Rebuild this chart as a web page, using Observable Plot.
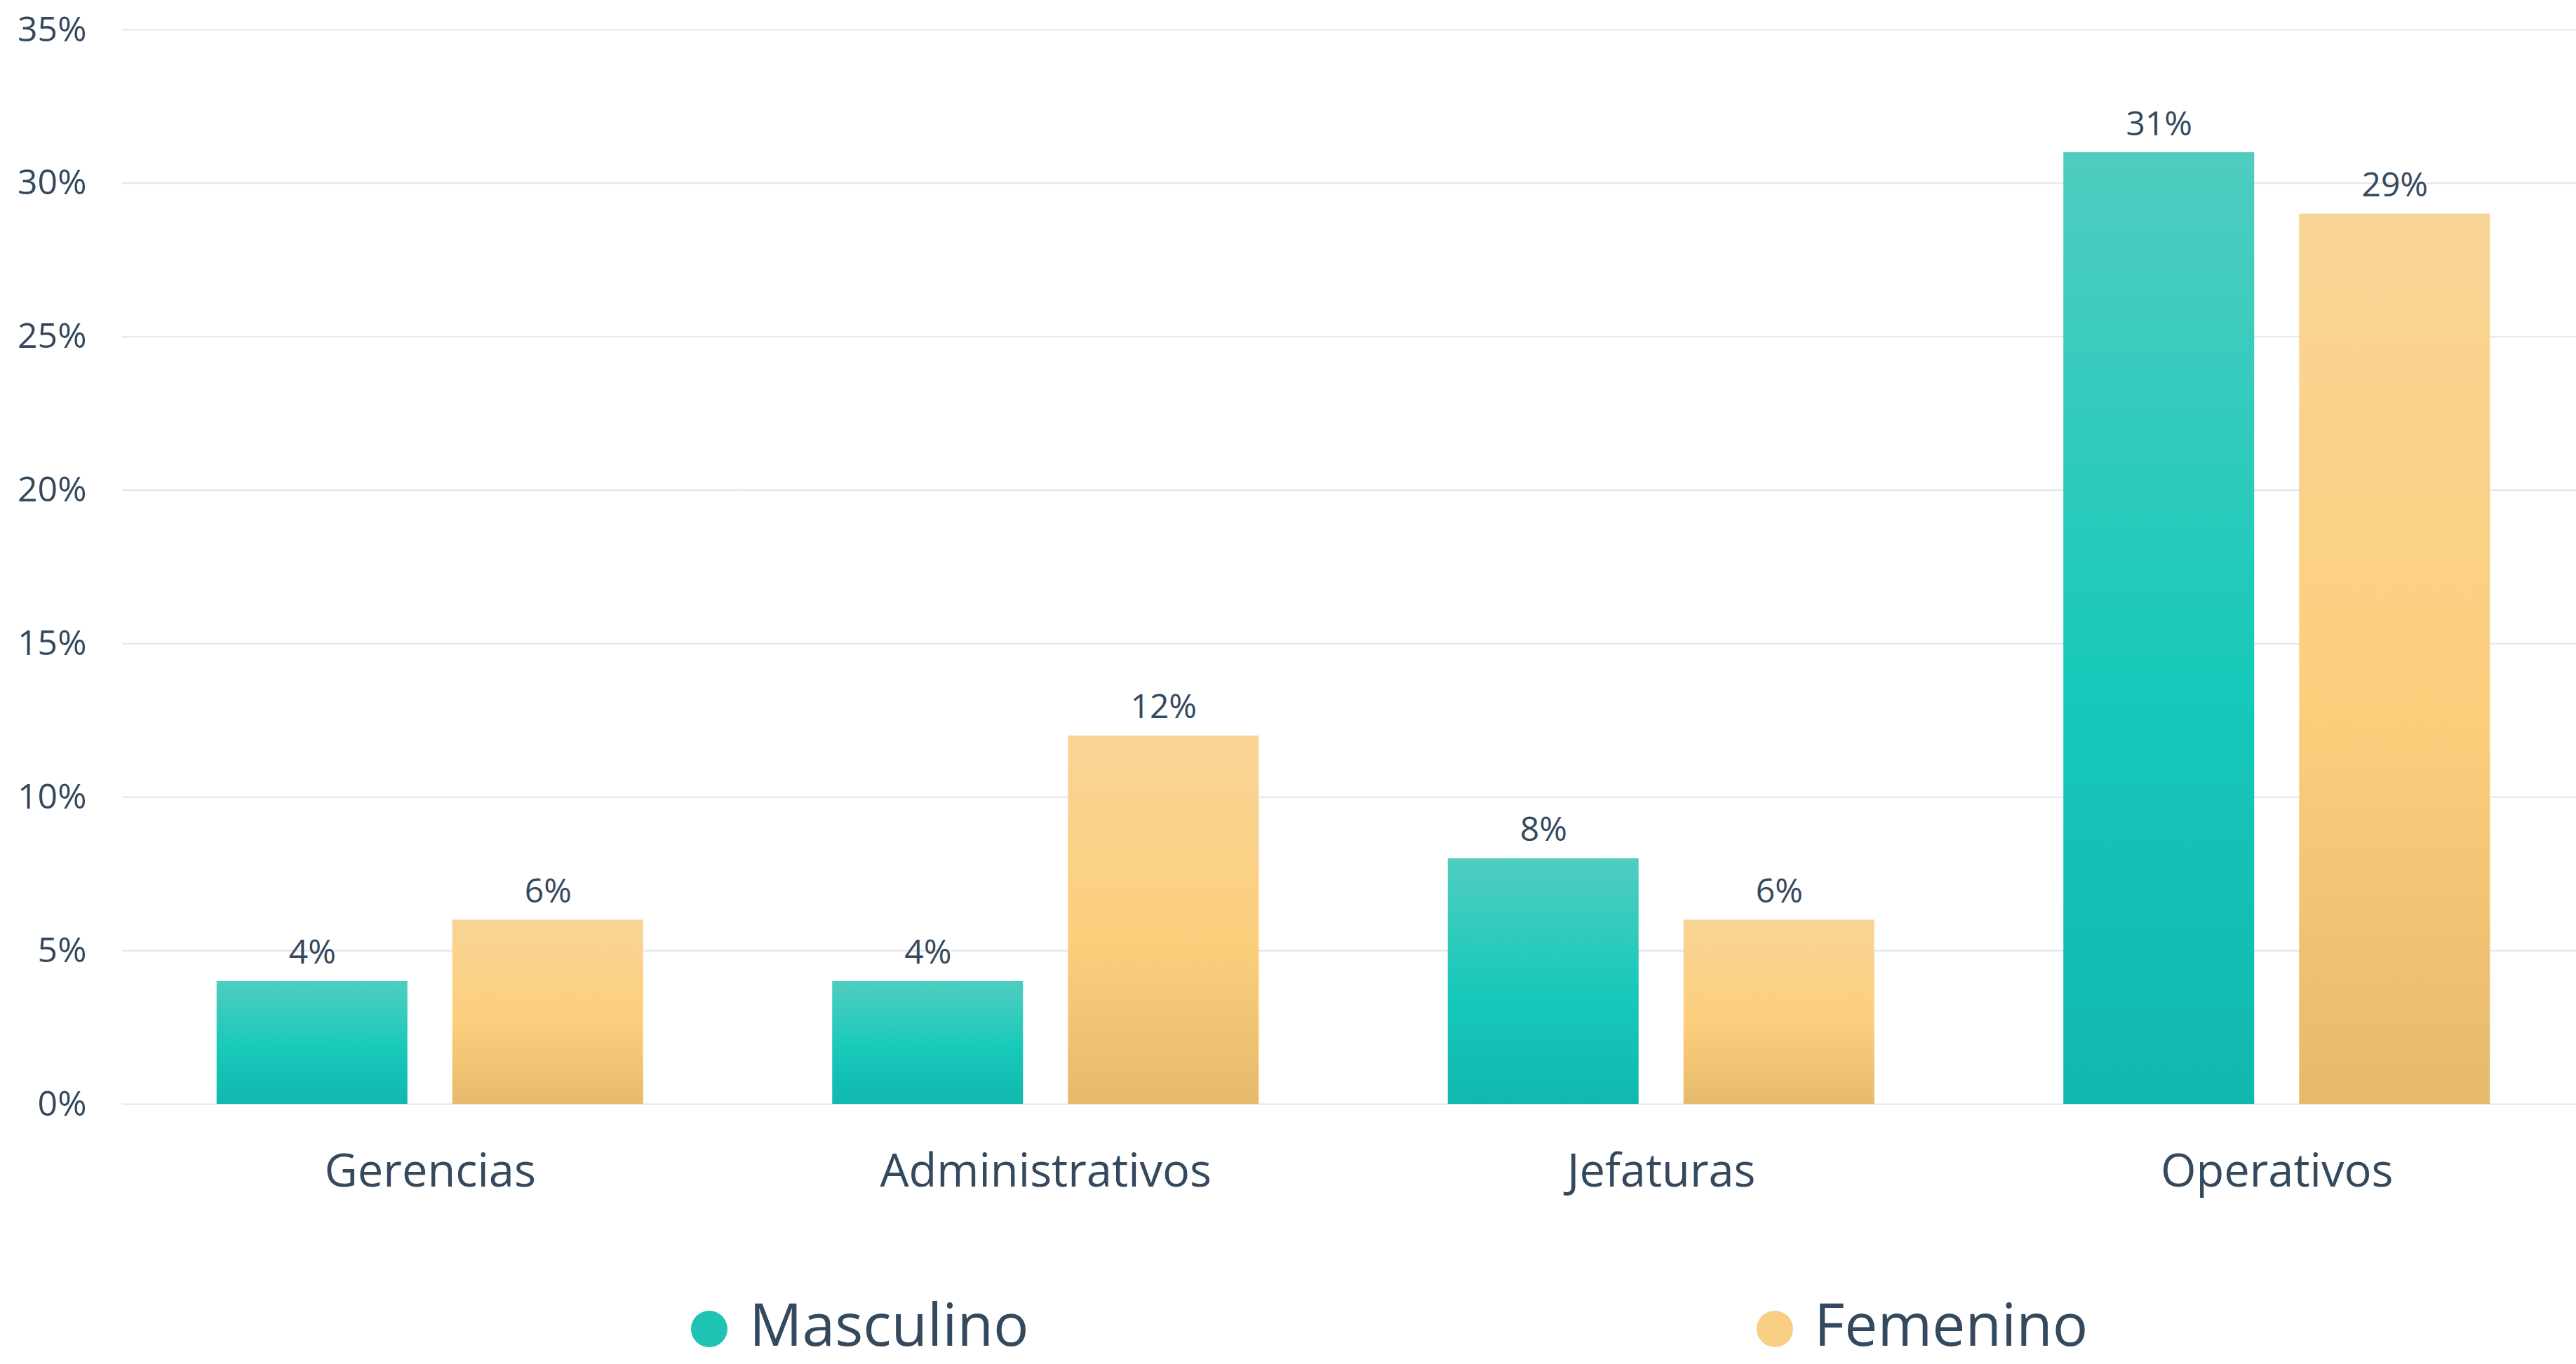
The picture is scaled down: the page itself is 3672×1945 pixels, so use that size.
<!DOCTYPE html>
<html>
<head>
<meta charset="utf-8">
<script src="https://cdn.jsdelivr.net/npm/d3@7"></script>
<script src="https://cdn.jsdelivr.net/npm/@observablehq/plot@0.6"></script>
<style>
  html, body { margin: 0; padding: 0; background: #fff; overflow: hidden; }
  body { width: 3672px; height: 1945px; position: relative; font-family: "Open Sans", sans-serif; }
  #chart { position: absolute; left: 0; top: 0; width: 3684px; }
  #chart svg { max-width: none !important; }
  .dot { position: absolute; width: 52px; height: 52px; border-radius: 50%; }
  .lt { position: absolute; display: block; color: #35495E; font-size: 84px; line-height: normal; white-space: nowrap; }
</style>
</head>
<body>
<div id="chart"></div>
<span class="dot" style="left:985px; top:1869px; background:#1FC3B4"></span>
<span class="lt" style="left:1068px; top:1829px;">Masculino</span>
<span class="dot" style="left:2504px; top:1869px; background:#F8CF85"></span>
<span class="lt" style="left:2586px; top:1829px;">Femenino</span>
<script>
const categories = ["Gerencias", "Administrativos", "Jefaturas", "Operativos"];
const series = ["Masculino", "Femenino"];
const masculino = [4, 4, 8, 31];
const femenino = [6, 12, 6, 29];
const yTicks = [0, 5, 10, 15, 20, 25, 30, 35];

const data = categories.flatMap((c, i) => [
  {cat: c, sexo: series[0], v: masculino[i]},
  {cat: c, sexo: series[1], v: femenino[i]}
]);

const textColor = "#35495E";

const chart = Plot.plot({
  width: 3684,
  height: 1800,
  marginLeft: 174,
  marginRight: 0,
  marginTop: 42,
  marginBottom: 226,
  facet: {marginTop: 0, marginBottom: 0, marginLeft: 0, marginRight: 0},
  style: {fontFamily: "'Open Sans', sans-serif", background: "transparent", color: textColor, maxWidth: "none"},
  fx: {domain: categories, padding: 0, label: null, round: false},
  x: {domain: series, paddingInner: 0.1905, paddingOuter: 0.401, axis: null, round: false},
  y: {domain: [0, 35], label: null},
  color: {domain: series, range: ["url(#gradM)", "url(#gradF)"]},
  marks: [
    Plot.gridY(yTicks, {stroke: "#E1E5EA", strokeOpacity: 1, strokeWidth: 2}),
    Plot.axisY(yTicks, {tickSize: 0, tickPadding: 51, fontSize: 50, fill: textColor, tickFormat: d => d + "%", label: null}),
    Plot.barY(data, {fx: "cat", x: "sexo", y: "v", fill: "sexo"}),
    Plot.text(data, {fx: "cat", x: "sexo", y: "v", text: d => d.v + "%", lineAnchor: "bottom", dy: -25, fontSize: 48, fill: textColor}),
    Plot.axisFx({anchor: "bottom", tickSize: 0, tickPadding: 71, fontSize: 65, fill: textColor, label: null})
  ]
});

const svg = d3.select(chart);
const defs = svg.insert("defs", ":first-child");
function grad(id, stops) {
  const g = defs.append("linearGradient").attr("id", id)
    .attr("x1", 0).attr("y1", 0).attr("x2", 0).attr("y2", 1);
  stops.forEach(([o, c]) => g.append("stop").attr("offset", o).attr("stop-color", c));
}
grad("gradM", [[0, "#4FCDC0"], [0.55, "#17C9BA"], [1, "#10B8AE"]]);
grad("gradF", [[0, "#F8D495"], [0.55, "#FCCF7D"], [1, "#E5BA6A"]]);

document.getElementById("chart").appendChild(chart);
</script>
</body>
</html>
